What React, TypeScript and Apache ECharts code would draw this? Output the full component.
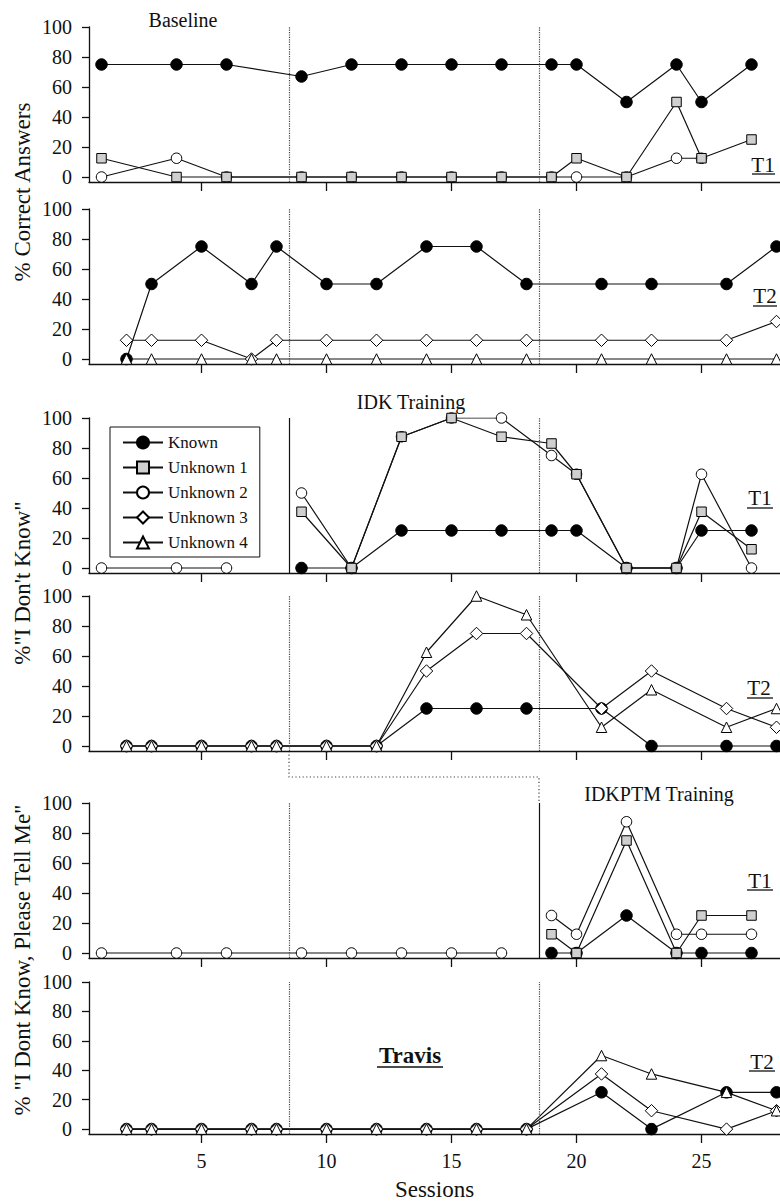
import React, { useEffect, useRef } from 'react';
import * as echarts from 'echarts';

const FONT = 'Liberation Serif';

const sessionTicks = [5, 10, 15, 20, 25];
const percentTicks = [0, 20, 40, 60, 80, 100];
const legendNames = ['Known', 'Unknown 1', 'Unknown 2', 'Unknown 3', 'Unknown 4'];
const phaseChanges = [8.5, 18.5];

// Panel 1: % correct answers, target set T1
const p1Sessions = [1, 4, 6, 9, 11, 13, 15, 17, 19, 20, 22, 24, 25, 27];
const p1Known = [75, 75, 75, 67, 75, 75, 75, 75, 75, 75, 50, 75, 50, 75];
const p1Unknown1 = [12.5, 0, 0, 0, 0, 0, 0, 0, 0, 12.5, 0, 50, 12.5, 25];
const p1Unknown2 = [0, 12.5, 0, 0, 0, 0, 0, 0, 0, 0, 0, 12.5, 12.5, null];

// Panel 2: % correct answers, target set T2
const p2Sessions = [2, 3, 5, 7, 8, 10, 12, 14, 16, 18, 21, 23, 26, 28];
const p2Known = [0, 50, 75, 50, 75, 50, 50, 75, 75, 50, 50, 50, 50, 75];
const p2Unknown3 = [12.5, 12.5, 12.5, 0, 12.5, 12.5, 12.5, 12.5, 12.5, 12.5, 12.5, 12.5, 12.5, 25];
const p2Unknown4 = [0, 0, 0, 0, 0, 0, 0, 0, 0, 0, 0, 0, 0, 0];

// Panel 3: % "I Don't Know", T1
const p3Sessions = [1, 4, 6, 9, 11, 13, 15, 17, 19, 20, 22, 24, 25, 27];
const p3Known = [null, null, null, 0, 0, 25, 25, 25, 25, 25, 0, 0, 25, 25];
const p3Unknown1 = [null, null, null, 37.5, 0, 87.5, 100, 87.5, 83, 62.5, 0, 0, 37.5, 12.5];
const p3Unknown2 = [0, 0, 0, 50, 0, 87.5, 100, 100, 75, 62.5, 0, 0, 62.5, 0];

// Panel 4: % "I Don't Know", T2
const p4Sessions = [2, 3, 5, 7, 8, 10, 12, 14, 16, 18, 21, 23, 26, 28];
const p4Known = [0, 0, 0, 0, 0, 0, 0, 25, 25, 25, 25, 0, 0, 0];
const p4Unknown3 = [0, 0, 0, 0, 0, 0, 0, 50, 75, 75, 25, 50, 25, 12.5];
const p4Unknown4 = [0, 0, 0, 0, 0, 0, 0, 62.5, 100, 87.5, 12.5, 37.5, 12.5, 25];

// Panel 5: % "I Dont Know, Please Tell Me", T1
const p5Sessions = [1, 4, 6, 9, 11, 13, 15, 17, 19, 20, 22, 24, 25, 27];
const p5Known = [null, null, null, null, null, null, null, null, 0, 0, 25, 0, 0, 0];
const p5Unknown1 = [null, null, null, null, null, null, null, null, 12.5, 0, 75, 0, 25, 25];
const p5Unknown2 = [0, 0, 0, 0, 0, 0, 0, 0, 25, 12.5, 87.5, 12.5, 12.5, 12.5];

// Panel 6: % "I Dont Know, Please Tell Me", T2
const p6Sessions = [2, 3, 5, 7, 8, 10, 12, 14, 16, 18, 21, 23, 26, 28];
const p6Known = [0, 0, 0, 0, 0, 0, 0, 0, 0, 0, 25, 0, 25, 25];
const p6Unknown3 = [0, 0, 0, 0, 0, 0, 0, 0, 0, 0, 37.5, 12.5, 0, 12.5];
const p6Unknown4 = [0, 0, 0, 0, 0, 0, 0, 0, 0, 0, 50, 37.5, 25, 12.5];

const panelTops = [27, 209, 418, 596, 803, 982];
const PANEL_H = 155;
const Y_MIN = -3.33;
const X_MIN = 0.5;
const X_MAX = 28.14;

const markerStyles: Record<string, any> = {
  'Known': { symbol: 'circle', symbolSize: 11.5, itemStyle: { color: '#000', borderColor: '#000', borderWidth: 1 } },
  'Unknown 1': { symbol: 'rect', symbolSize: 9.5, itemStyle: { color: '#cfcfcf', borderColor: '#000', borderWidth: 1 } },
  'Unknown 2': { symbol: 'circle', symbolSize: 10.5, itemStyle: { color: '#fff', borderColor: '#000', borderWidth: 1 } },
  'Unknown 3': { symbol: 'diamond', symbolSize: 12.5, itemStyle: { color: '#fff', borderColor: '#000', borderWidth: 1 } },
  'Unknown 4': { symbol: 'triangle', symbolSize: 10.5, itemStyle: { color: '#fff', borderColor: '#000', borderWidth: 1 } },
};

type Panel = {
  sessions: number[];
  series: [string, (number | null)[]][];
  breakAt: number | null;
  solidPhase: number | null;
};

const panels: Panel[] = [
  { sessions: p1Sessions, series: [['Known', p1Known], ['Unknown 2', p1Unknown2], ['Unknown 1', p1Unknown1]], breakAt: null, solidPhase: null },
  { sessions: p2Sessions, series: [['Known', p2Known], ['Unknown 3', p2Unknown3], ['Unknown 4', p2Unknown4]], breakAt: null, solidPhase: null },
  { sessions: p3Sessions, series: [['Known', p3Known], ['Unknown 2', p3Unknown2], ['Unknown 1', p3Unknown1]], breakAt: 8.5, solidPhase: 8.5 },
  { sessions: p4Sessions, series: [['Known', p4Known], ['Unknown 3', p4Unknown3], ['Unknown 4', p4Unknown4]], breakAt: null, solidPhase: null },
  { sessions: p5Sessions, series: [['Known', p5Known], ['Unknown 2', p5Unknown2], ['Unknown 1', p5Unknown1]], breakAt: 18.5, solidPhase: 18.5 },
  { sessions: p6Sessions, series: [['Known', p6Known], ['Unknown 3', p6Unknown3], ['Unknown 4', p6Unknown4]], breakAt: null, solidPhase: null },
];

function toData(sessions: number[], values: (number | null)[], breakAt: number | null) {
  const out: any[] = [];
  sessions.forEach((s, i) => {
    if (breakAt != null && i > 0 && sessions[i - 1] < breakAt && s > breakAt) out.push([breakAt, '-']);
    out.push([s, values[i] == null ? '-' : values[i]]);
  });
  return out;
}

const AXIS_LINE = { color: '#111', width: 1.3 };

function buildOption() {
  const grid: any[] = [];
  const xAxis: any[] = [];
  const yAxis: any[] = [];
  const series: any[] = [];
  panels.forEach((p, i) => {
    grid.push({ left: 89, right: 0, top: panelTops[i], height: PANEL_H });
    xAxis.push({
      type: 'value', gridIndex: i, min: X_MIN, max: X_MAX,
      axisLine: { show: true, onZero: false, lineStyle: AXIS_LINE },
      axisTick: { show: true, customValues: sessionTicks, length: 9, lineStyle: AXIS_LINE },
      axisLabel: { show: i === 5, customValues: sessionTicks, fontSize: 20, fontFamily: FONT, color: '#111', margin: 17 },
      splitLine: { show: false },
      name: i === 5 ? 'Sessions' : '',
      nameLocation: 'middle', nameGap: 44,
      nameTextStyle: { fontSize: 23, fontFamily: FONT, color: '#111' },
    });
    yAxis.push({
      type: 'value', gridIndex: i, min: Y_MIN, max: 100,
      axisLine: { show: true, onZero: false, lineStyle: AXIS_LINE },
      axisTick: { show: true, customValues: percentTicks, length: 7, lineStyle: AXIS_LINE },
      axisLabel: { show: true, customValues: percentTicks, fontSize: 20, fontFamily: FONT, color: '#111', margin: 17 },
      splitLine: { show: false },
    });
    p.series.forEach(([name, values], k) => {
      const st = markerStyles[name];
      const s: any = {
        type: 'line', name, xAxisIndex: i, yAxisIndex: i,
        data: toData(p.sessions, values, p.breakAt),
        symbol: st.symbol, symbolSize: st.symbolSize, showAllSymbol: true,
        itemStyle: st.itemStyle,
        lineStyle: { color: '#111', width: 1.2 },
        connectNulls: false, silent: true,
      };
      if (k === 0) {
        s.markLine = {
          silent: true, symbol: 'none', label: { show: false },
          lineStyle: { color: '#333', width: 1.1, type: 'dotted' },
          data: phaseChanges.map((v) => ({
            xAxis: v,
            lineStyle: v === p.solidPhase ? { type: 'solid', color: '#111', width: 1.2 } : { type: 'dotted', color: '#444', width: 1.2 },
          })),
        };
      }
      series.push(s);
    });
  });

  return {
    animation: false,
    backgroundColor: '#fff',
    textStyle: { fontFamily: FONT },
    grid, xAxis, yAxis, series,
    legend: {
      data: legendNames,
      orient: 'vertical',
      left: 110, top: 427,
      itemWidth: 40, itemHeight: 15, itemGap: 8,
      padding: [7, 12, 6, 12],
      borderColor: '#111', borderWidth: 1,
      backgroundColor: '#fff',
      selectedMode: false,
      textStyle: { fontSize: 17, fontFamily: FONT, color: '#111' },
    },
  };
}

function txt(text: string, x: number, y: number, size: number, extra: any = {}) {
  return {
    type: 'text', x, y, silent: true, ...extra,
    style: { text, fontSize: size, fontFamily: FONT, fill: '#111', align: 'center', verticalAlign: 'middle', textAlign: 'center', textVerticalAlign: 'middle' },
  };
}

function uline(x1: number, x2: number, y: number, w = 1.3) {
  return { type: 'line', silent: true, shape: { x1, y1: y, x2, y2: y }, style: { stroke: '#111', lineWidth: w } };
}

export default function App() {
  const ref = useRef<HTMLDivElement>(null);
  useEffect(() => {
    if (!ref.current) return;
    const chart = echarts.init(ref.current, undefined, { renderer: 'svg' });
    chart.setOption(buildOption() as any);

    const xA = chart.convertToPixel({ xAxisIndex: 3 }, 8.5) as number;
    const xB = chart.convertToPixel({ xAxisIndex: 3 }, 18.5) as number;
    const y4Bottom = chart.convertToPixel({ yAxisIndex: 3 }, Y_MIN) as number;
    const y5Top = chart.convertToPixel({ yAxisIndex: 4 }, 100) as number;
    const yMid = (y4Bottom + y5Top) / 2;

    const graphic: any[] = [
      {
        type: 'polyline', silent: true,
        shape: { points: [[xA, y4Bottom], [xA, yMid], [xB, yMid], [xB, y5Top]] },
        style: { stroke: '#444', lineWidth: 1.2, lineDash: [1.2, 2.4], fill: null },
      },
      txt('Baseline', 183, 20, 20),
      txt('IDK Training', 411, 402, 20),
      txt('IDKPTM Training', 659, 794, 20),
      txt('T1', 763, 165, 21), uline(752, 775, 174),
      txt('T2', 765, 296, 21), uline(753, 777, 306),
      txt('T1', 760, 498, 21), uline(747, 773, 508),
      txt('T2', 759, 688, 21), uline(747, 773, 698),
      txt('T1', 760, 881, 21), uline(747, 773, 890),
      txt('T2', 762, 1062, 21), uline(749, 775, 1071),
      {
        type: 'text', x: 410, y: 1055, silent: true,
        style: { text: 'Travis', fontSize: 23, fontWeight: 'bold', fontFamily: FONT, fill: '#111', align: 'center', verticalAlign: 'middle' },
      },
      uline(377, 443, 1067, 1.6),
      txt('% Correct Answers', 22, 192, 23, { rotation: Math.PI / 2 }),
      txt('%"I Don\'t Know"', 22, 583, 23, { rotation: Math.PI / 2 }),
      txt('% "I Dont Know, Please Tell Me"', 22, 960, 23, { rotation: Math.PI / 2 }),
    ];
    chart.setOption({ graphic } as any);

    return () => chart.dispose();
  }, []);
  return <div ref={ref} style={{ position: 'fixed', left: 0, top: 0, width: 780, height: 1202, background: '#fff' }} />;
}
